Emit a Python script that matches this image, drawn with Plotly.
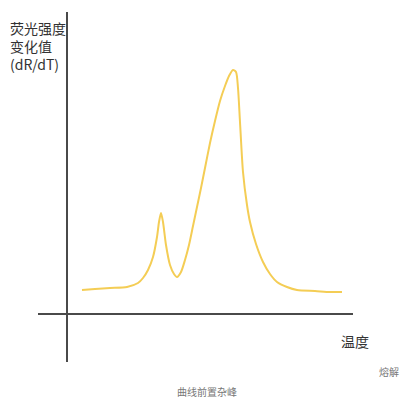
import plotly.graph_objs as go

# melt curve (arbitrary temperature units)
temperature = [1.5, 2.8, 4.3, 6.0, 7.1, 7.6, 8.1, 8.6, 9.0, 9.2, 9.4, 9.6, 9.9,
               10.3, 10.7, 11.0, 11.4, 11.8, 12.2, 12.6, 13.0, 13.4, 13.8, 14.3,
               14.8, 15.3, 15.8, 16.2, 16.6, 16.9, 17.1, 17.3, 17.6, 18.0, 18.3,
               18.9, 19.6, 20.3, 21.0, 22.0, 23.0, 24.8, 26.3, 27.5]
drdt = [2.4, 2.5, 2.6, 2.7, 3.1, 3.6, 4.4, 5.7, 7.7, 9.2, 10.1, 9.2, 6.9,
        4.9, 4.0, 3.7, 4.2, 5.4, 6.9, 8.8, 10.7, 12.6, 14.6, 17.1,
        19.3, 21.3, 22.8, 23.8, 24.4, 24.2, 22.6, 19.2, 14.2, 10.9, 9.2,
        7.0, 5.2, 4.0, 3.2, 2.7, 2.4, 2.3, 2.2, 2.2]

y_label = "荧光强度<br>变化值<br>(dR/dT)"
x_label = "温度"
corner_note = "熔解"
caption = "曲线前置杂峰"

# page body has an 8px margin, so the figure is 412 wide and offsets are shifted
OFF = 8
W, H = 412, 412
L, T = 38 - OFF, 12 - OFF
R, B = W - (353 - OFF), H - (362 - OFF)
pw, ph = W - L - R, H - T - B


def px(x, y):
    # screen pixel position -> paper coords
    return (x - OFF - L) / pw, (H - B - (y - OFF)) / ph


font = "Noto Sans CJK SC"

fig = go.Figure()
fig.add_trace(go.Scatter(
    x=temperature,
    y=drdt,
    mode="lines",
    line=dict(color="#F4CD55", width=2, shape="spline", smoothing=0.7),
    hoverinfo="skip",
    showlegend=False
))

annots = []
ax_, ay_ = px(8, 46)
annots.append(dict(x=ax_, y=ay_, text=y_label, xanchor="left", yanchor="middle",
                   align="left", font=dict(family=font, size=14, color="#333333")))
ax_, ay_ = px(355, 341)
annots.append(dict(x=ax_, y=ay_, text=x_label, xanchor="center", yanchor="middle",
                   font=dict(family=font, size=14, color="#333333")))
ax_, ay_ = px(389, 371)
annots.append(dict(x=ax_, y=ay_, text=corner_note, xanchor="center", yanchor="middle",
                   font=dict(family=font, size=10, color="#777777")))
ax_, ay_ = px(207, 392)
annots.append(dict(x=ax_, y=ay_, text=caption, xanchor="center", yanchor="middle",
                   font=dict(family=font, size=10, color="#777777")))
for a in annots:
    a.update(xref="paper", yref="paper", showarrow=False)

fig.update_layout(
    width=W,
    height=H,
    margin=dict(l=L, r=R, t=T, b=B, pad=0),
    paper_bgcolor="white",
    plot_bgcolor="white",
    annotations=annots,
    xaxis=dict(
        range=[-2.9, 28.6],
        showgrid=False,
        showticklabels=False,
        ticks="",
        zeroline=True,
        zerolinecolor="#4a4a4a",
        zerolinewidth=2
    ),
    yaxis=dict(
        range=[-4.8, 30.2],
        showgrid=False,
        showticklabels=False,
        ticks="",
        zeroline=True,
        zerolinecolor="#4a4a4a",
        zerolinewidth=2
    )
)

fig.write_html("out.html")
